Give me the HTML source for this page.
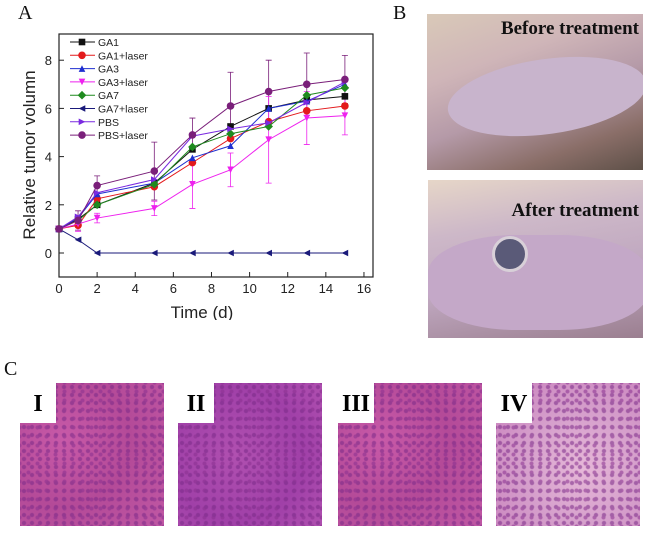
<!DOCTYPE html>
<html><head><meta charset="utf-8"><style>
body{margin:0;background:#fff;width:647px;height:538px;overflow:hidden;position:relative;font-family:"Liberation Sans",sans-serif}
.lbl{position:absolute;font-family:"Liberation Serif",serif;font-size:20px;color:#111;z-index:3}
.photo{position:absolute;overflow:hidden}
.he{position:absolute;width:144px;height:143px;top:383px;background:radial-gradient(circle at 30% 40%,#c85aa8 0,#b44a98 50%,#c058a4 100%)}
.he::before{content:"";position:absolute;inset:0;background:radial-gradient(circle,#7a2a88 1.6px,transparent 2.6px) 0 0/8px 8px,radial-gradient(circle,#8a3090 1.5px,transparent 2.5px) 4px 4px/9px 9px;opacity:.55}
.tag{position:absolute;left:0;top:0;background:#fff;width:36px;height:40px;font-family:"Liberation Serif",serif;font-weight:bold;font-size:24px;text-align:center;line-height:42px;z-index:2}
</style></head><body>
<div class="lbl" style="left:18px;top:2px">A</div>
<div class="lbl" style="left:393px;top:2px">B</div>
<div class="lbl" style="left:4px;top:358px">C</div>
<svg id="chart" width="400" height="320" style="position:absolute;left:0;top:0"></svg>

<div class="photo" style="left:427px;top:14px;width:216px;height:156px;background:linear-gradient(160deg,#d9c9b8 0,#cfb5b8 30%,#b59aa8 55%,#8a6e68 80%,#5e5048 100%)">
<div style="position:absolute;left:20px;top:45px;width:200px;height:75px;border-radius:50%;background:#c8b4cc;transform:rotate(-8deg)"></div>
<div style="position:absolute;right:4px;top:4px;font-family:'Liberation Serif',serif;font-weight:bold;font-size:19px;color:#111">Before treatment</div></div>
<div class="photo" style="left:428px;top:180px;width:215px;height:158px;background:linear-gradient(170deg,#e6d6c8 0,#cdb8c8 30%,#c0a8c0 60%,#9b7f90 100%)">
<div style="position:absolute;left:0;top:55px;width:220px;height:95px;border-radius:40%;background:#c4a8c8"></div>
<div style="position:absolute;left:64px;top:56px;width:30px;height:30px;border-radius:50%;background:#5a5a78;border:3px solid #d8d0d8"></div>
<div style="position:absolute;right:4px;top:20px;font-family:'Liberation Serif',serif;font-weight:bold;font-size:19px;color:#111">After treatment</div></div>

<div class="he" style="left:20px"><div class="tag">I</div></div>
<div class="he" style="left:178px;background:radial-gradient(circle at 40% 50%,#b050b0 0,#a040a8 60%,#b050b0 100%)"><div class="tag">II</div></div>
<div class="he" style="left:338px"><div class="tag">III</div></div>
<div class="he" style="left:496px;background:radial-gradient(circle at 60% 60%,#e6b8d8 0,#d6a0cc 45%,#c880bc 100%)"><div class="tag">IV</div></div>

<script>
const days=[0,1,2,5,7,9,11,13,15];
const seriesNames=["GA1","GA1+laser","GA3","GA3+laser","GA7","GA7+laser","PBS","PBS+laser"];
const ga1=[1,1.4,2.0,2.9,4.3,5.25,6.0,6.35,6.5];
const ga1Laser=[1,1.15,2.25,2.75,3.75,4.75,5.45,5.9,6.1];
const ga3=[1,1.45,2.45,2.9,3.95,4.45,6.0,6.3,7.0];
const ga3Laser=[1,1.2,1.45,1.85,2.85,3.45,4.7,5.6,5.7];
const ga7=[1,1.35,2.0,2.85,4.4,4.95,5.25,6.55,6.85];
const ga7Laser=[1,0.55,0,0,0,0,0,0,0];
const pbs=[1,1.5,2.5,3.05,4.85,5.15,5.4,6.25,7.1];
const pbsLaser=[1,1.35,2.8,3.4,4.9,6.1,6.7,7.0,7.2];
const pbsLaserErr=[0,0.4,0.4,1.2,0.7,1.4,1.3,1.3,1.0];
const ga3LaserErr=[0,0.3,0.2,0.3,1.0,0.7,1.8,1.1,0.8];
const xTicks=[0,2,4,6,8,10,12,14,16];
const yTicks=[0,2,4,6,8];
const colors=["#111","#e31a1c","#1f2fd0","#ee22ee","#1f8a1f","#1a1a7a","#7a2ae0","#7a1f7a"];
const markers=["sq","ci","tu","td","di","tl","tr","ci"];
const data=[ga1,ga1Laser,ga3,ga3Laser,ga7,ga7Laser,pbs,pbsLaser];
const X=v=>59+v*19.06, Y=v=>253-v*24.1;
const svg=document.getElementById('chart');const NS="http://www.w3.org/2000/svg";
function mk(t,a,p){const e=document.createElementNS(NS,t);for(const k in a)e.setAttribute(k,a[k]);(p||svg).appendChild(e);return e;}
const frame=mk('rect',{x:59,y:34,width:314,height:243,fill:'none',stroke:'#222','stroke-width':1.2});


xTicks.forEach(t=>{mk('line',{x1:X(t),x2:X(t),y1:277,y2:272,stroke:'#222'});
const tx=mk('text',{x:X(t),y:293,'text-anchor':'middle','font-size':13,fill:'#222'});tx.textContent=t;

});
yTicks.forEach(t=>{mk('line',{x1:59,x2:64,y1:Y(t),y2:Y(t),stroke:'#222'});
const tx=mk('text',{x:52,y:Y(t)+5,'text-anchor':'end','font-size':13,fill:'#222'});tx.textContent=t;

});
const xt=mk('text',{x:X(7.5),y:318,'text-anchor':'middle','font-size':17,fill:'#222'});xt.textContent="Time (d)";


const yt=mk('text',{x:35,y:155,'text-anchor':'middle','font-size':17,fill:'#222',transform:'rotate(-90 35 155)'});yt.textContent="Relative tumor volumn";


function marker(m,x,y,c,p){const s=3.3;let e;
if(m=="sq")e=mk('rect',{x:x-s,y:y-s,width:2*s,height:2*s,fill:c},p);
else if(m=="ci")e=mk('circle',{cx:x,cy:y,r:s+0.5,fill:c},p);
else{const pts={tu:[[0,-s],[s,s],[-s,s]],td:[[0,s],[s,-s],[-s,-s]],di:[[0,-s-1],[s+1,0],[0,s+1],[-s-1,0]],tl:[[-s,0],[s,-s],[s,s]],tr:[[s,0],[-s,-s],[-s,s]]}[m];
e=mk('polygon',{points:pts.map(q=>(x+q[0])+','+(y+q[1])).join(' '),fill:c},p);}
return e;}
[[pbsLaser,pbsLaserErr,7],[ga3Laser,ga3LaserErr,3]].forEach(([d,er,i])=>{d.forEach((v,j)=>{if(!er[j])return;
const eb=mk('path',{d:`M${X(days[j])},${Y(v-er[j])}V${Y(v+er[j])}M${X(days[j])-3},${Y(v-er[j])}h6M${X(days[j])-3},${Y(v+er[j])}h6`,stroke:colors[i],'stroke-width':0.8,fill:'none'});

});});
data.forEach((d,i)=>{const g=mk('g',{});


mk('polyline',{points:d.map((v,j)=>X(days[j])+','+Y(v)).join(' '),fill:'none',stroke:colors[i],'stroke-width':1},g);
d.forEach((v,j)=>marker(markers[i],X(days[j]),Y(v),colors[i],g));
const ly=42+i*13.3;mk('line',{x1:70,x2:95,y1:ly,y2:ly,stroke:colors[i]},g);marker(markers[i],82,ly,colors[i],g);
const lt=mk('text',{x:98,y:ly+4,'font-size':10.5,fill:'#222'},g);lt.textContent=seriesNames[i];

});
</script>
</body></html>
